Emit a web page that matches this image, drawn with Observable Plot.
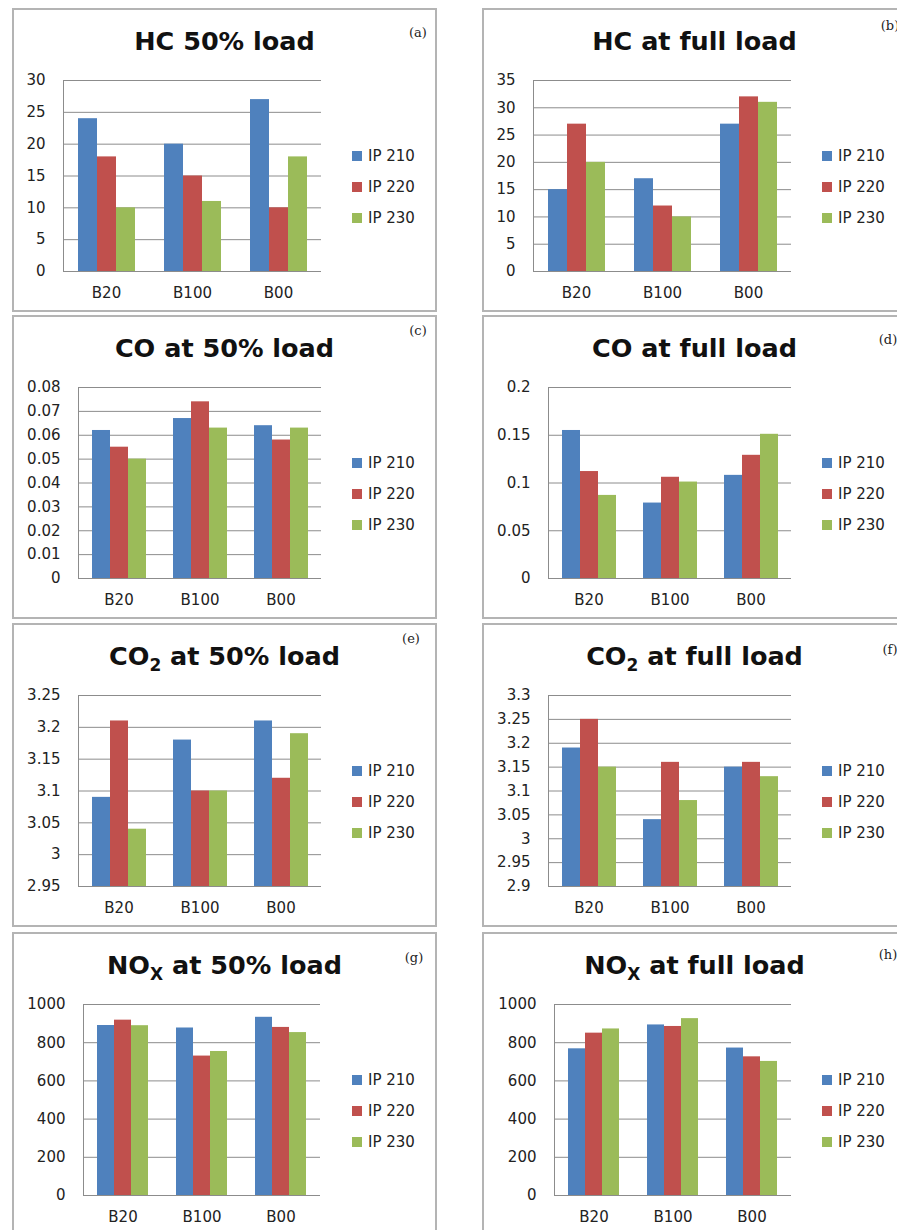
<!DOCTYPE html>
<html><head><meta charset="utf-8">
<script src="https://cdn.jsdelivr.net/npm/d3@7"></script>
<script src="https://cdn.jsdelivr.net/npm/@observablehq/plot@0.6"></script>
<style>
html,body{margin:0;padding:0;background:#fff;}
body{width:897px;height:1230px;overflow:hidden;position:relative;font-family:"DejaVu Sans",sans-serif;}
.panel{position:absolute;width:425px;height:304px;box-sizing:border-box;border:2px solid #b4b4b4;background:#fff;}
.title{position:absolute;left:0;right:0;top:16px;text-align:center;font-weight:bold;font-size:25.5px;line-height:30px;color:#111;white-space:nowrap;}
.title sub{font-size:17px;vertical-align:baseline;position:relative;top:6px;line-height:0;}
.tag{position:absolute;font-family:"DejaVu Serif",serif;font-size:13px;transform:translate(-50%,-50%);color:#222;white-space:nowrap;}
.legend{position:absolute;left:338px;top:130px;}
.legend .item{display:flex;align-items:center;height:31px;font-size:15px;color:#222;white-space:nowrap;}
.legend .sw{width:10px;height:10px;margin-right:6px;}
.chart{position:absolute;left:0;top:60px;}
</style></head><body>
<script>
// ---- data ----
const categories = ["B20", "B100", "B00"];
const series = ["IP 210", "IP 220", "IP 230"];
const seriesColors = ["#4F81BD", "#C0504D", "#9BBB59"];
const panelTitles = [
  "HC 50% load", "HC at full load",
  "CO at 50% load", "CO at full load",
  "CO<sub>2</sub> at 50% load", "CO<sub>2</sub> at full load",
  "NO<sub>X</sub> at 50% load", "NO<sub>X</sub> at full load"
];
const panelTags = ["(a)", "(b)", "(c)", "(d)", "(e)", "(f)", "(g)", "(h)"];

// rows: IP 210, IP 220, IP 230 ; columns: B20, B100, B00
const hcHalf  = [[24, 20, 27], [18, 15, 10], [10, 11, 18]];
const hcFull  = [[15, 17, 27], [27, 12, 32], [20, 10, 31]];
const coHalf  = [[0.062, 0.067, 0.064], [0.055, 0.074, 0.058], [0.050, 0.063, 0.063]];
const coFull  = [[0.155, 0.079, 0.108], [0.112, 0.106, 0.129], [0.087, 0.101, 0.151]];
const co2Half = [[3.09, 3.18, 3.21], [3.21, 3.10, 3.12], [3.04, 3.10, 3.19]];
const co2Full = [[3.19, 3.04, 3.15], [3.25, 3.16, 3.16], [3.15, 3.08, 3.13]];
const noxHalf = [[890, 877, 933], [918, 730, 880], [889, 754, 853]];
const noxFull = [[768, 893, 772], [850, 885, 726], [872, 926, 702]];

const hcHalfTicks  = [0, 5, 10, 15, 20, 25, 30];
const hcFullTicks  = [0, 5, 10, 15, 20, 25, 30, 35];
const coHalfTicks  = [0, 0.01, 0.02, 0.03, 0.04, 0.05, 0.06, 0.07, 0.08];
const coFullTicks  = [0, 0.05, 0.1, 0.15, 0.2];
const co2HalfTicks = [2.95, 3, 3.05, 3.1, 3.15, 3.2, 3.25];
const co2FullTicks = [2.9, 2.95, 3, 3.05, 3.1, 3.15, 3.2, 3.25, 3.3];
const noxTicks     = [0, 200, 400, 600, 800, 1000];

const panelValues = [hcHalf, hcFull, coHalf, coFull, co2Half, co2Full, noxHalf, noxFull];
const panelTicks = [hcHalfTicks, hcFullTicks, coHalfTicks, coFullTicks, co2HalfTicks, co2FullTicks, noxTicks, noxTicks];

// ---- layout (positions / styles) ----
const layout = [
  {left: 12,  top: 8,   marginLeft: 48, tagX: 404, tagY: 22},
  {left: 482, top: 8,   marginLeft: 48, tagX: 406, tagY: 15},
  {left: 12,  top: 315, marginLeft: 63, tagX: 404, tagY: 13},
  {left: 482, top: 315, marginLeft: 64, tagX: 404, tagY: 22},
  {left: 12,  top: 623, marginLeft: 63, tagX: 397, tagY: 13},
  {left: 482, top: 623, marginLeft: 64, tagX: 406, tagY: 24},
  {left: 12,  top: 932, marginLeft: 68, tagX: 400, tagY: 23},
  {left: 482, top: 932, marginLeft: 69, tagX: 404, tagY: 20}
];
const gridColor = "#8c8c8c";
const fmt = d3.format("~g");

panelValues.forEach((vals, p) => {
  const L = layout[p];
  const ticks = panelTicks[p];
  const lo = ticks[0], hi = ticks[ticks.length - 1];
  const rows = [];
  series.forEach((s, si) => categories.forEach((c, ci) => rows.push({category: c, series: s, value: vals[si][ci]})));

  const panel = document.createElement("div");
  panel.className = "panel";
  panel.style.left = L.left + "px";
  panel.style.top = L.top + "px";
  document.body.appendChild(panel);

  const title = document.createElement("div");
  title.className = "title";
  title.innerHTML = panelTitles[p];
  panel.appendChild(title);

  const tag = document.createElement("div");
  tag.className = "tag";
  tag.textContent = panelTags[p];
  tag.style.left = L.tagX + "px";
  tag.style.top = L.tagY + "px";
  panel.appendChild(tag);

  const chart = Plot.plot({
    width: 320,
    height: 241,
    marginLeft: L.marginLeft,
    marginRight: 13,
    marginTop: 10,
    marginBottom: 40,
    style: {fontFamily: "DejaVu Sans", fontSize: "15px", color: "#222", background: "transparent", overflow: "visible"},
    fx: {domain: categories, padding: 0, label: null, axis: "bottom", tickSize: 0, tickPadding: 16},
    x: {domain: series, paddingInner: 0, paddingOuter: 0.75, axis: null},
    y: {domain: [lo, hi], ticks: ticks, tickFormat: fmt, tickSize: 0, tickPadding: 18, label: null},
    color: {domain: series, range: seriesColors},
    marks: [
      Plot.ruleY(ticks, {stroke: gridColor, strokeWidth: 1}),
      Plot.barY(rows, {fx: "category", x: "series", y1: lo, y2: "value", fill: "series"}),
      Plot.ruleY([lo], {stroke: gridColor, strokeWidth: 1}),
      Plot.frame({anchor: "left", facet: "super", stroke: gridColor})
    ]
  });
  chart.classList.add("chart");
  panel.appendChild(chart);

  const legend = document.createElement("div");
  legend.className = "legend";
  series.forEach((s, i) => {
    const item = document.createElement("div");
    item.className = "item";
    const sw = document.createElement("span");
    sw.className = "sw";
    sw.style.background = seriesColors[i];
    item.appendChild(sw);
    item.appendChild(document.createTextNode(s));
    legend.appendChild(item);
  });
  panel.appendChild(legend);
});
</script>
</body></html>
